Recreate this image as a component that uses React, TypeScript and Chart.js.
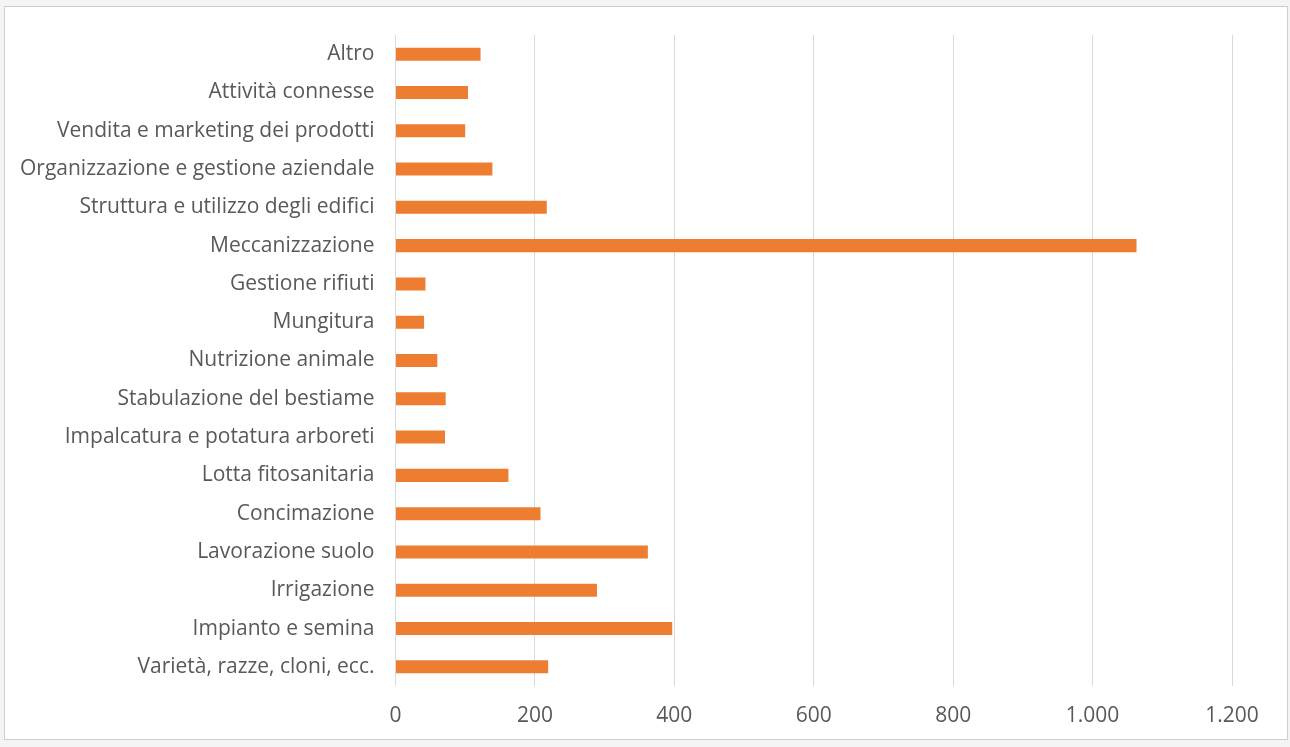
import React, { useEffect, useRef } from "react";
import { Chart, registerables } from "chart.js";

Chart.register(...registerables);

const categories: string[] = [
  "Altro",
  "Attività connesse",
  "Vendita e marketing dei prodotti",
  "Organizzazione e gestione aziendale",
  "Struttura e utilizzo degli edifici",
  "Meccanizzazione",
  "Gestione rifiuti",
  "Mungitura",
  "Nutrizione animale",
  "Stabulazione del bestiame",
  "Impalcatura e potatura arboreti",
  "Lotta fitosanitaria",
  "Concimazione",
  "Lavorazione suolo",
  "Irrigazione",
  "Impianto e semina",
  "Varietà, razze, cloni, ecc.",
];

const values: number[] = [122, 104, 100, 139, 217, 1063, 43, 41, 60, 72, 71, 162, 208, 362, 289, 397, 219];

const xTicks: number[] = [0, 200, 400, 600, 800, 1000, 1200];

const fmt = (v: number) => String(v).replace(/\B(?=(\d{3})+(?!\d))/g, ".");

export default function App() {
  const ref = useRef<HTMLCanvasElement | null>(null);

  useEffect(() => {
    if (!ref.current) return;
    const font = { family: "'Open Sans', Lato, sans-serif", size: 21 };
    const chart = new Chart(ref.current, {
      type: "bar",
      data: {
        labels: categories,
        datasets: [
          {
            data: values,
            backgroundColor: "#ED7D31",
            borderWidth: 0,
            barPercentage: 0.34,
            categoryPercentage: 1,
          },
        ],
      },
      options: {
        indexAxis: "y",
        animation: false,
        responsive: true,
        maintainAspectRatio: false,
        layout: { padding: { top: 35, right: 58, left: 0, bottom: 0 } },
        plugins: { legend: { display: false }, tooltip: { enabled: false } },
        scales: {
          x: {
            min: 0,
            max: 1200,
            afterBuildTicks: (s: any) => {
              s.ticks = xTicks.map((v) => ({ value: v }));
            },
            ticks: {
              color: "#595959",
              font,
              padding: 17,
              callback: (v: any) => fmt(Number(v)),
            },
            grid: { color: "#D9D9D9", drawTicks: false, lineWidth: 1 },
            border: { display: false },
            afterFit: (s: any) => {
              s.height = 61;
            },
          },
          y: {
            ticks: { color: "#595959", font, padding: 21, autoSkip: false },
            grid: { display: false, drawTicks: false },
            border: { display: false },
            afterFit: (s: any) => {
              s.width = 395.5;
            },
          },
        },
      },
    });
    return () => chart.destroy();
  }, []);

  return (
    <div
      style={{
        position: "fixed",
        left: 0,
        top: 0,
        width: 1290,
        height: 747,
        background: "#f4f4f4",
      }}
    >
      <div
        style={{
          position: "absolute",
          left: 4,
          top: 6,
          width: 1284,
          height: 734,
          background: "#ffffff",
          border: "1px solid #cfcfcf",
          boxSizing: "border-box",
        }}
      />
      <div style={{ position: "absolute", left: 0, top: 0, width: 1290, height: 747 }}>
        <canvas ref={ref} />
      </div>
    </div>
  );
}
